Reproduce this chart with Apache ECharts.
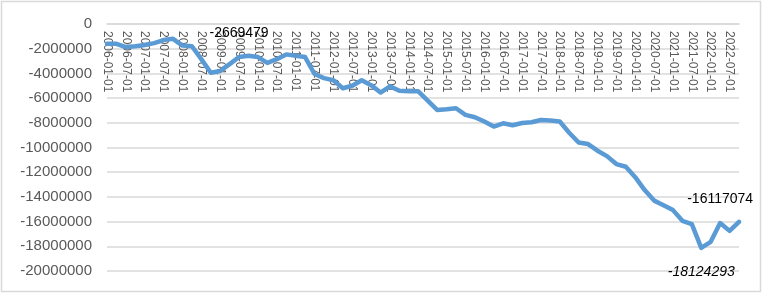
<!DOCTYPE html>
<html>
<head>
<meta charset="utf-8">
<script src="https://cdn.jsdelivr.net/npm/echarts@6/dist/echarts.min.js"></script>
<style>html,body{margin:0;padding:0;background:#fff;}#c{width:763px;height:294px;}</style>
</head>
<body>
<div id="c"></div>
<script>
var categories = [
"2006-01-01","2006-04-01","2006-07-01","2006-10-01",
"2007-01-01","2007-04-01","2007-07-01","2007-10-01",
"2008-01-01","2008-04-01","2008-07-01","2008-10-01",
"2009-01-01","2009-04-01","2009-07-01","2009-10-01",
"2010-01-01","2010-04-01","2010-07-01","2010-10-01",
"2011-01-01","2011-04-01","2011-07-01","2011-10-01",
"2012-01-01","2012-04-01","2012-07-01","2012-10-01",
"2013-01-01","2013-04-01","2013-07-01","2013-10-01",
"2014-01-01","2014-04-01","2014-07-01","2014-10-01",
"2015-01-01","2015-04-01","2015-07-01","2015-10-01",
"2016-01-01","2016-04-01","2016-07-01","2016-10-01",
"2017-01-01","2017-04-01","2017-07-01","2017-10-01",
"2018-01-01","2018-04-01","2018-07-01","2018-10-01",
"2019-01-01","2019-04-01","2019-07-01","2019-10-01",
"2020-01-01","2020-04-01","2020-07-01","2020-10-01",
"2021-01-01","2021-04-01","2021-07-01","2021-10-01",
"2022-01-01","2022-04-01","2022-07-01","2022-10-01"
];
var values = [
-1600000,-1600000,-1870000,-1800000,
-1700000,-1550000,-1300000,-1200000,
-1750000,-1800000,-2850000,-3950000,
-3800000,-3250000,-2669479,-2570000,
-2680000,-3150000,-2850000,-2460000,
-2570000,-2680000,-4050000,-4380000,
-4550000,-5200000,-5000000,-4550000,
-4950000,-5550000,-5050000,-5400000,
-5450000,-5450000,-6200000,-6960000,
-6900000,-6820000,-7360000,-7550000,
-7900000,-8300000,-8040000,-8200000,
-8020000,-7960000,-7770000,-7820000,
-7900000,-8800000,-9600000,-9720000,
-10260000,-10700000,-11340000,-11560000,
-12400000,-13450000,-14300000,-14670000,
-15070000,-15940000,-16200000,-18124293,
-17640000,-16117074,-16750000,-16020000
];
var yTicks = {min: -20000000, max: 0, interval: 2000000};
var labelsAbove = [14, 65];
var labelsBelow = [63];

var seriesData = values.map(function (v, i) {
  if (labelsAbove.indexOf(i) >= 0) {
    return {value: v, label: {show: true, position: 'top', distance: 17, fontSize: 14, color: '#000', fontFamily: 'Liberation Sans'}};
  }
  if (labelsBelow.indexOf(i) >= 0) {
    return {value: v, label: {show: true, position: 'bottom', distance: 17, fontSize: 14, color: '#000', fontStyle: 'italic', fontFamily: 'Liberation Sans'}};
  }
  return v;
});

var chart = echarts.init(document.getElementById('c'), null, {renderer: 'canvas'});
chart.setOption({
  animation: false,
  backgroundColor: '#fff',
  textStyle: {fontFamily: 'Liberation Sans'},
  graphic: [{
    type: 'rect', silent: true, z: -1,
    shape: {x: 1.5, y: 1.5, width: 759, height: 290},
    style: {fill: null, stroke: '#d9d9d9', lineWidth: 1.5}
  }],
  grid: {left: 107, right: 24, top: 24, bottom: 23, containLabel: false, outerBoundsMode: 'none'},
  xAxis: {
    type: 'category',
    position: 'top',
    data: categories,
    boundaryGap: false,
    axisLine: {show: true, onZero: false, lineStyle: {color: '#d9d9d9', width: 1.5}},
    axisTick: {show: false},
    axisLabel: {interval: 1, rotate: 90, inside: true, fontSize: 12, color: '#595959', margin: 7, fontFamily: 'Liberation Sans'}
  },
  yAxis: {
    type: 'value',
    min: yTicks.min, max: yTicks.max, interval: yTicks.interval,
    axisLine: {show: false},
    axisTick: {show: false},
    splitLine: {show: true, lineStyle: {color: '#d9d9d9', width: 1.5}},
    axisLabel: {fontSize: 15, color: '#595959', margin: 15, fontFamily: 'Liberation Sans',
      formatter: function (v) { return String(v); }}
  },
  series: [{
    type: 'line',
    data: seriesData,
    showSymbol: true,
    symbol: 'circle',
    symbolSize: 0,
    lineStyle: {color: '#5B9BD5', width: 4.5, cap: 'round', join: 'round'},
    itemStyle: {color: '#5B9BD5'},
    z: 3
  }]
});
</script>
</body>
</html>
